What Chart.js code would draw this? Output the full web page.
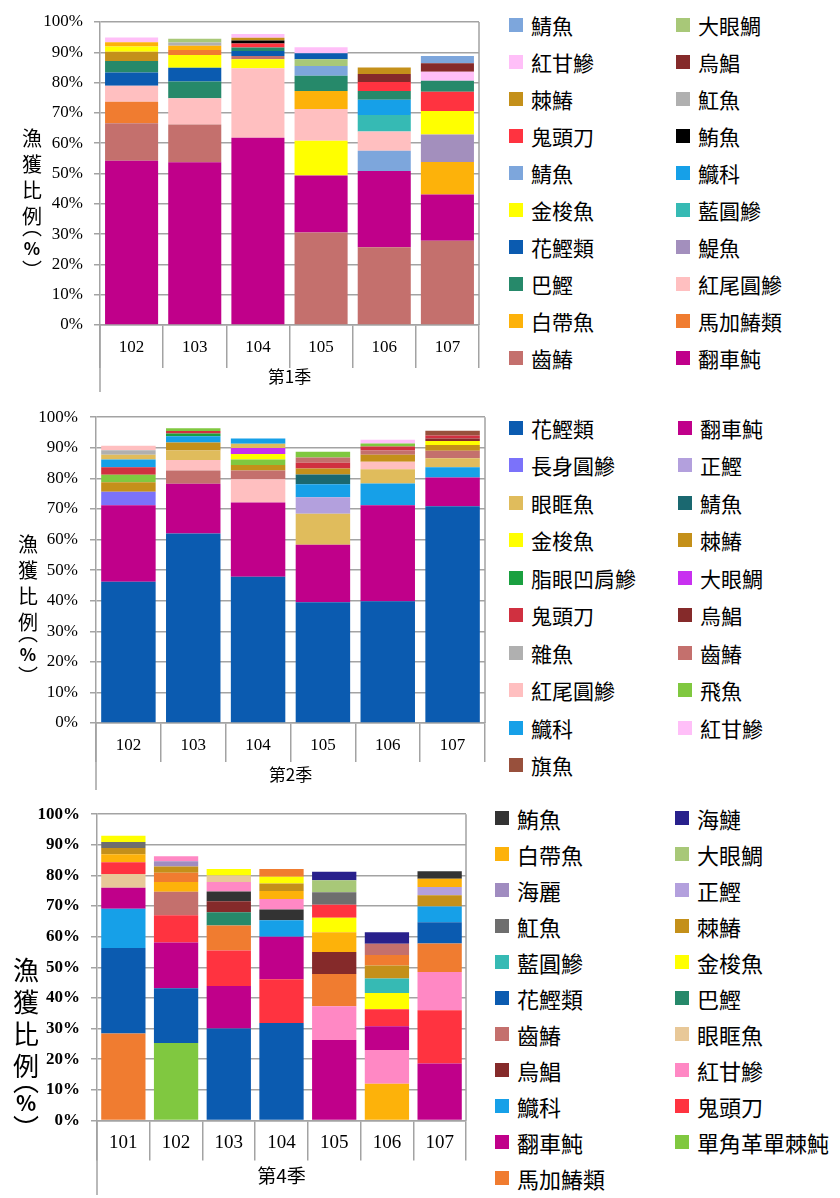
<!DOCTYPE html>
<html>
<head>
<meta charset="utf-8">
<script src="https://cdn.jsdelivr.net/npm/chart.js@4.4.1/dist/chart.umd.min.js"></script>
<style>
  body { margin: 0; background: #fff; width: 840px; height: 1198px; position: relative; overflow: hidden;
         font-family: "Noto Sans CJK TC", sans-serif; }
  .panel { position: absolute; left: 0; width: 840px; }
  .panel canvas { position: absolute; left: 0; top: 0; }
  .ytitle { position: absolute; display: flex; flex-direction: column; align-items: center; color: #000; }
  .ytitle div { display: flex; align-items: center; justify-content: center; }
  .ytitle .po { transform: translateY(-7px); }
  .ytitle .pc { transform: translateY(7px); }
  .legend { position: absolute; display: grid; }
  .item { display: flex; align-items: center; color: #000; white-space: nowrap; }
  .sw { width: 14px; height: 14px; margin-right: 8px; flex: none; }
</style>
</head>
<body>

<div class="panel" id="p1" style="top:0;height:395px">
  <canvas id="c1" width="495" height="395"></canvas>
  <div class="ytitle" style="left:20px;top:124px;font-size:20px;width:24px">
    <div style="height:26px">漁</div><div style="height:26px">獲</div><div style="height:26px">比</div><div style="height:26px">例</div>
    <div class="po" style="height:10px">︵</div><div style="height:18px;font-weight:bold;font-size:17px">%</div><div class="pc" style="height:12px">︶</div>
  </div>
  <div class="legend" id="l1" style="left:509px;top:6px;grid-template-columns:167px 167px;grid-auto-rows:37px;font-size:21px"></div>
</div>

<div class="panel" id="p2" style="top:395px;height:398px">
  <canvas id="c2" width="495" height="398"></canvas>
  <div class="ytitle" style="left:16px;top:135px;font-size:20px;width:24px">
    <div style="height:26px">漁</div><div style="height:26px">獲</div><div style="height:26px">比</div><div style="height:26px">例</div>
    <div class="po" style="height:10px">︵</div><div style="height:18px;font-weight:bold;font-size:17px">%</div><div class="pc" style="height:12px">︶</div>
  </div>
  <div class="legend" id="l2" style="left:509px;top:14px;grid-template-columns:169px 169px;grid-auto-rows:37.5px;font-size:21px"></div>
</div>

<div class="panel" id="p3" style="top:793px;height:405px">
  <canvas id="c3" width="495" height="405"></canvas>
  <div class="ytitle" style="left:11px;top:159px;font-size:26px;width:30px">
    <div style="height:32px">漁</div><div style="height:32px">獲</div><div style="height:32px">比</div><div style="height:32px">例</div>
    <div class="po" style="height:12px">︵</div><div style="height:20px;font-weight:bold;font-size:21px">%</div><div class="pc" style="height:14px">︶</div>
  </div>
  <div class="legend" id="l3" style="left:495px;top:7px;grid-template-columns:180px 170px;grid-auto-rows:36px;font-size:22px"></div>
</div>

<script>
// ---------- 第1季 ----------
const q1Years = ['102', '103', '104', '105', '106', '107'];
// each bar listed bottom -> top: [species, percent]
const q1b102 = [['翻車魨', 54.2], ['齒鰆', 12.4], ['馬加鰆類', 7.1], ['紅尾圓鰺', 5.3], ['花鰹類', 4.3], ['巴鰹', 3.8], ['棘鰆', 3.1], ['金梭魚', 1.7], ['白帶魚', 1.4], ['紅甘鰺', 1.6]];
const q1b103 = [['翻車魨', 53.7], ['齒鰆', 12.5], ['紅尾圓鰺', 8.6], ['巴鰹', 5.6], ['花鰹類', 4.5], ['金梭魚', 4.2], ['馬加鰆類', 1.7], ['白帶魚', 1.4], ['魟魚', 1.0], ['大眼鯛', 1.3]];
const q1b104 = [['翻車魨', 61.8], ['紅尾圓鰺', 22.9], ['金梭魚', 3.0], ['齒鰆', 1.1], ['花鰹類', 1.6], ['巴鰹', 1.2], ['鬼頭刀', 1.3], ['鮪魚', 1.0], ['棘鰆', 0.9], ['紅甘鰺', 1.2]];
const q1b105 = [['齒鰆', 30.5], ['翻車魨', 18.8], ['金梭魚', 11.5], ['紅尾圓鰺', 10.5], ['白帶魚', 5.9], ['巴鰹', 5.1], ['鯖魚', 3.2], ['大眼鯛', 2.2], ['花鰹類', 2.0], ['紅甘鰺', 2.0]];
const q1b106 = [['齒鰆', 25.7], ['翻車魨', 25.1], ['鯖魚', 6.7], ['紅尾圓鰺', 6.4], ['藍圓鰺', 5.4], ['鱵科', 5.0], ['巴鰹', 2.9], ['鬼頭刀', 3.0], ['烏鯧', 2.6], ['棘鰆', 2.2]];
const q1b107 = [['齒鰆', 27.8], ['翻車魨', 15.3], ['白帶魚', 10.7], ['鯷魚', 9.1], ['金梭魚', 7.7], ['鬼頭刀', 6.4], ['巴鰹', 3.6], ['紅甘鰺', 3.0], ['烏鯧', 2.8], ['鯖魚', 2.4]];
const q1Legend = ['鯖魚', '大眼鯛', '紅甘鰺', '烏鯧', '棘鰆', '魟魚', '鬼頭刀', '鮪魚', '鯖魚', '鱵科',
  '金梭魚', '藍圓鰺', '花鰹類', '鯷魚', '巴鰹', '紅尾圓鰺', '白帶魚', '馬加鰆類', '齒鰆', '翻車魨'];

// ---------- 第2季 ----------
const q2Years = ['102', '103', '104', '105', '106', '107'];
const q2b102 = [['花鰹類', 46.2], ['翻車魨', 25.0], ['長身圓鰺', 4.4], ['棘鰆', 3.1], ['飛魚', 2.5], ['鬼頭刀', 2.4], ['鱵科', 2.6], ['眼眶魚', 1.5], ['雜魚', 1.5], ['紅尾圓鰺', 1.5]];
const q2b103 = [['花鰹類', 62.0], ['翻車魨', 16.2], ['齒鰆', 4.4], ['紅尾圓鰺', 3.4], ['眼眶魚', 3.1], ['棘鰆', 2.6], ['鱵科', 2.1], ['脂眼凹肩鰺', 0.9], ['鬼頭刀', 0.8], ['飛魚', 0.9]];
const q2b104 = [['花鰹類', 47.8], ['翻車魨', 24.3], ['紅尾圓鰺', 7.6], ['齒鰆', 2.9], ['棘鰆', 1.8], ['飛魚', 1.8], ['金梭魚', 1.8], ['大眼鯛', 1.9], ['眼眶魚', 1.4], ['鱵科', 1.7]];
const q2b105 = [['花鰹類', 39.5], ['翻車魨', 18.8], ['眼眶魚', 10.1], ['正鰹', 5.4], ['鱵科', 4.3], ['鯖魚', 3.2], ['棘鰆', 1.9], ['鬼頭刀', 1.9], ['齒鰆', 1.7], ['飛魚', 1.9]];
const q2b106 = [['花鰹類', 39.8], ['翻車魨', 31.4], ['鱵科', 7.1], ['眼眶魚', 4.7], ['紅尾圓鰺', 2.4], ['棘鰆', 2.3], ['齒鰆', 1.4], ['鬼頭刀', 1.3], ['飛魚', 1.0], ['紅甘鰺', 1.2]];
const q2b107 = [['花鰹類', 70.9], ['翻車魨', 9.4], ['鱵科', 3.3], ['眼眶魚', 3.0], ['齒鰆', 2.4], ['棘鰆', 1.9], ['金梭魚', 1.3], ['烏鯧', 0.8], ['鬼頭刀', 1.0], ['旗魚', 1.6]];
const q2Legend = ['花鰹類', '翻車魨', '長身圓鰺', '正鰹', '眼眶魚', '鯖魚', '金梭魚', '棘鰆', '脂眼凹肩鰺', '大眼鯛',
  '鬼頭刀', '烏鯧', '雜魚', '齒鰆', '紅尾圓鰺', '飛魚', '鱵科', '紅甘鰺', '旗魚'];

// ---------- 第4季 ----------
const q3Years = ['101', '102', '103', '104', '105', '106', '107'];
const q3b101 = [['馬加鰆類', 28.4], ['花鰹類', 27.9], ['鱵科', 12.8], ['翻車魨', 6.9], ['眼眶魚', 4.5], ['鬼頭刀', 3.8], ['白帶魚', 2.6], ['棘鰆', 2.1], ['魟魚', 1.9], ['金梭魚', 2.1]];
const q3b102 = [['單角革單棘魨', 25.3], ['花鰹類', 17.9], ['翻車魨', 14.9], ['鬼頭刀', 8.9], ['齒鰆', 7.7], ['白帶魚', 3.2], ['馬加鰆類', 3.0], ['棘鰆', 2.0], ['海麗', 1.7], ['紅甘鰺', 1.7]];
const q3b103 = [['花鰹類', 30.0], ['翻車魨', 13.9], ['鬼頭刀', 11.6], ['馬加鰆類', 8.2], ['巴鰹', 4.3], ['烏鯧', 3.6], ['鮪魚', 3.2], ['紅甘鰺', 3.1], ['眼眶魚', 2.1], ['金梭魚', 2.1]];
const q3b104 = [['花鰹類', 31.8], ['鬼頭刀', 14.3], ['翻車魨', 13.9], ['鱵科', 5.4], ['鮪魚', 3.5], ['紅甘鰺', 3.4], ['白帶魚', 2.6], ['棘鰆', 2.5], ['金梭魚', 2.2], ['馬加鰆類', 2.5]];
const q3b105 = [['翻車魨', 26.3], ['紅甘鰺', 11.0], ['馬加鰆類', 10.5], ['烏鯧', 7.2], ['白帶魚', 6.5], ['金梭魚', 4.7], ['鬼頭刀', 4.2], ['魟魚', 4.1], ['大眼鯛', 3.9], ['海鰱', 2.8]];
const q3b106 = [['白帶魚', 12.0], ['紅甘鰺', 11.0], ['翻車魨', 7.8], ['鬼頭刀', 5.5], ['金梭魚', 5.3], ['藍圓鰺', 4.8], ['棘鰆', 4.2], ['馬加鰆類', 3.4], ['齒鰆', 3.7], ['海鰱', 3.8]];
const q3b107 = [['翻車魨', 18.6], ['鬼頭刀', 17.4], ['紅甘鰺', 12.5], ['馬加鰆類', 9.3], ['花鰹類', 6.9], ['鱵科', 5.2], ['棘鰆', 3.6], ['正鰹', 2.7], ['白帶魚', 2.7], ['鮪魚', 2.5]];
const q3Legend = ['鮪魚', '海鰱', '白帶魚', '大眼鯛', '海麗', '正鰹', '魟魚', '棘鰆', '藍圓鰺', '金梭魚', '花鰹類',
  '巴鰹', '齒鰆', '眼眶魚', '烏鯧', '紅甘鰺', '鱵科', '鬼頭刀', '翻車魨', '單角革單棘魨', '馬加鰆類'];

// colours per chart (legend swatches)
const q1Colors = {
  '鯖魚': '#7da6dc', '大眼鯛': '#a8c878', '紅甘鰺': '#ffbff8', '烏鯧': '#852a2a', '棘鰆': '#c4901a',
  '魟魚': '#b0b0b0', '鬼頭刀': '#ff3340', '鮪魚': '#000000', '鱵科': '#16a0e8', '金梭魚': '#ffff00',
  '藍圓鰺': '#36bab4', '花鰹類': '#0b5bb0', '鯷魚': '#a38fbd', '巴鰹': '#26896a', '紅尾圓鰺': '#ffbfc0',
  '白帶魚': '#fdb20a', '馬加鰆類': '#f07c30', '齒鰆': '#c4706d', '翻車魨': '#c0008a'
};
const q2Colors = {
  '花鰹類': '#0b5bb0', '翻車魨': '#c0008a', '長身圓鰺': '#7b72fa', '正鰹': '#b3a0dd', '眼眶魚': '#e0bc5c',
  '鯖魚': '#1a6870', '金梭魚': '#ffff00', '棘鰆': '#c4901a', '脂眼凹肩鰺': '#1aa040', '大眼鯛': '#c830f0',
  '鬼頭刀': '#d03040', '烏鯧': '#852a2a', '雜魚': '#b0b0b0', '齒鰆': '#c4706d', '紅尾圓鰺': '#ffbfc0',
  '飛魚': '#80c840', '鱵科': '#16a0e8', '紅甘鰺': '#ffbff8', '旗魚': '#98503c'
};
const q3Colors = {
  '鮪魚': '#333333', '海鰱': '#28208c', '白帶魚': '#fdb20a', '大眼鯛': '#a8c878', '海麗': '#a08cc0',
  '正鰹': '#b3a0dd', '魟魚': '#6e6e6e', '棘鰆': '#c4901a', '藍圓鰺': '#36bab4', '金梭魚': '#ffff00',
  '花鰹類': '#0b5bb0', '巴鰹': '#26896a', '齒鰆': '#c4706d', '眼眶魚': '#e8c898', '烏鯧': '#852a2a',
  '紅甘鰺': '#ff88c4', '鱵科': '#16a0e8', '鬼頭刀': '#ff3340', '翻車魨': '#c0008a',
  '單角革單棘魨': '#80c840', '馬加鰆類': '#f07c30'
};

const GRID = '#a3a3a3';
const SERIF = '"Liberation Serif", "Times New Roman", serif';
const CJK = '"Noto Sans CJK TC", sans-serif';

// species order differs per bar, so stack "layers": layer k = k-th segment of each bar
function layers(bars, colors) {
  const n = Math.max(...bars.map(b => b.length));
  const sets = [];
  for (let k = 0; k < n; k++) {
    sets.push({
      label: 'layer' + k,
      data: bars.map(b => b[k] ? b[k][1] : null),
      backgroundColor: bars.map(b => b[k] ? colors[b[k][0]] : 'rgba(0,0,0,0)'),
      borderWidth: 0,
      barPercentage: 0.84,
      categoryPercentage: 1,
      stack: 'all'
    });
  }
  return sets;
}

// right edge of the plot box + left axis running down past the categories
const frame = {
  id: 'frame',
  afterDraw(chart) {
    const { ctx, chartArea: a, height } = chart;
    ctx.save();
    ctx.strokeStyle = GRID;
    ctx.lineWidth = 1.5;
    ctx.beginPath();
    ctx.moveTo(a.right, a.top); ctx.lineTo(a.right, a.bottom);
    ctx.moveTo(a.left, a.bottom); ctx.lineTo(a.left, height - 3);
    ctx.stroke();
    ctx.restore();
  }
};

function drawChart(id, years, bars, colors, c) {
  return new Chart(document.getElementById(id), {
    type: 'bar',
    data: { labels: years, datasets: layers(bars, colors) },
    options: {
      responsive: false,
      animation: false,
      layout: { padding: { left: 0, top: c.top, right: c.right, bottom: 0 } },
      plugins: { legend: { display: false }, tooltip: { enabled: false } },
      scales: {
        x: {
          stacked: true,
          grid: { offset: true, drawOnChartArea: false, tickLength: c.tl, color: GRID, lineWidth: 1.5 },
          border: { color: GRID, width: 1.5 },
          ticks: { padding: c.xpad, color: '#000', maxRotation: 0, autoSkip: false,
                   font: { family: SERIF, size: c.xfont } },
          title: { display: true, text: c.title, color: '#000',
                   font: { family: CJK, size: c.tfont }, padding: { top: 0, bottom: c.tpad } },
          afterFit: s => { s.height = c.xh; }
        },
        y: {
          stacked: true,
          min: 0,
          max: 100,
          ticks: { stepSize: 10, callback: v => v + '%', padding: c.ypad, color: '#000',
                   font: { family: SERIF, size: c.yfont, weight: c.yweight } },
          grid: { color: GRID, lineWidth: 1.5, tickLength: 6 },
          border: { color: GRID, width: 1.5 },
          afterFit: s => { s.width = c.left; }
        }
      }
    },
    plugins: [frame]
  });
}

function legend(id, names, colors) {
  const box = document.getElementById(id);
  names.forEach(n => {
    const it = document.createElement('div');
    it.className = 'item';
    it.innerHTML = '<span class="sw" style="background:' + colors[n] + '"></span>' + n;
    box.appendChild(it);
  });
}

drawChart('c1', q1Years, [q1b102, q1b103, q1b104, q1b105, q1b106, q1b107], q1Colors,
  { top: 22, right: 16, left: 100, xh: 70, tl: 43, xpad: -31, xfont: 17, title: '第1季', tfont: 17, tpad: 8,
    ypad: 11, yfont: 17, yweight: 'normal' });
drawChart('c2', q2Years, [q2b102, q2b103, q2b104, q2b105, q2b106, q2b107], q2Colors,
  { top: 20, right: 10, left: 96, xh: 70, tl: 39, xpad: -27, xfont: 17, title: '第2季', tfont: 17, tpad: 8,
    ypad: 12, yfont: 17, yweight: 'normal' });
drawChart('c3', q3Years, [q3b101, q3b102, q3b103, q3b104, q3b105, q3b106, q3b107], q3Colors,
  { top: 11.5, right: 29, left: 97, xh: 77.5, tl: 40, xpad: -29, xfont: 19, title: '第4季', tfont: 19, tpad: 11,
    ypad: 11, yfont: 17, yweight: 'bold' });

legend('l1', q1Legend, q1Colors);
legend('l2', q2Legend, q2Colors);
legend('l3', q3Legend, q3Colors);
</script>
</body>
</html>
